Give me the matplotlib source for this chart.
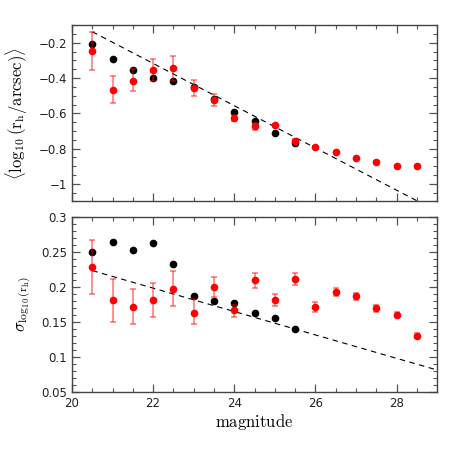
import numpy as np
import matplotlib
matplotlib.use("Agg")
from matplotlib import pyplot as plt
from matplotlib.ticker import MultipleLocator, FuncFormatter

plt.rcParams['mathtext.fontset'] = 'cm'
plt.rcParams['font.family'] = 'DejaVu Sans'

# magnitude bins
mag_black = [20.5, 21.0, 21.5, 22.0, 22.5, 23.0, 23.5, 24.0, 24.5, 25.0, 25.5]
mag_red = [20.5, 21.0, 21.5, 22.0, 22.5, 23.0, 23.5, 24.0, 24.5, 25.0, 25.5,
           26.0, 26.5, 27.0, 27.5, 28.0, 28.5]

# top panel : mean log10(rh)
mean_black = [-0.209, -0.293, -0.352, -0.400, -0.418, -0.452, -0.517, -0.591, -0.645, -0.709, -0.770]
mean_red = [-0.247, -0.466, -0.414, -0.354, -0.344, -0.454, -0.527, -0.628, -0.671, -0.669, -0.755,
            -0.793, -0.821, -0.853, -0.874, -0.901, -0.901]
mean_red_lo = [0.109, 0.076, 0.061, 0.064, 0.074, 0.050, 0.034, 0.018, 0.023, 0.010, 0.010,
               0.006, 0.006, 0.005, 0.005, 0.005, 0.005]
mean_red_hi = [0.110, 0.078, 0.064, 0.065, 0.072, 0.041, 0.038, 0.016, 0.015, 0.010, 0.010,
               0.006, 0.006, 0.005, 0.005, 0.005, 0.005]

# bottom panel : sigma log10(rh)
sig_black = [0.250, 0.264, 0.253, 0.262, 0.233, 0.186, 0.179, 0.176, 0.163, 0.155, 0.140]
sig_red = [0.228, 0.181, 0.171, 0.181, 0.197, 0.163, 0.199, 0.166, 0.209, 0.181, 0.211,
           0.171, 0.192, 0.186, 0.169, 0.160, 0.130]
sig_red_lo = [0.039, 0.031, 0.025, 0.024, 0.025, 0.017, 0.014, 0.009, 0.011, 0.008, 0.008,
              0.0067, 0.006, 0.005, 0.005, 0.004, 0.004]
sig_red_hi = [0.038, 0.030, 0.025, 0.024, 0.026, 0.019, 0.015, 0.008, 0.011, 0.008, 0.008,
              0.0067, 0.006, 0.005, 0.005, 0.004, 0.004]

# dashed reference lines (end points)
line_top_x = [20.5, 29.5]
line_top_y = [-0.137, -1.216]
line_bot_x = [20.5, 29.0]
line_bot_y = [0.223, 0.081]

fig = plt.figure(figsize=(4.63, 4.63), dpi=100)
ax1 = fig.add_axes([0.1555, 0.5650, 0.7885, 0.3805])
ax2 = fig.add_axes([0.1555, 0.1540, 0.7885, 0.3780])

red = '#ff0000'
ms = 4.5
ekw = dict(fmt='o', color=red, ms=ms, ecolor=(1, 0, 0, 0.55), elinewidth=1.1,
           capsize=2.5, capthick=1.1, zorder=4)

ax1.plot(line_top_x, line_top_y, color='black', ls=(0, (5, 4)), lw=0.8, zorder=2)
ax1.plot(mag_black, mean_black, 'o', color='black', ms=ms, zorder=3)
ax1.errorbar(mag_red, mean_red, yerr=[mean_red_lo, mean_red_hi], **ekw)

ax2.plot(line_bot_x, line_bot_y, color='black', ls=(0, (5, 4)), lw=0.8, zorder=2)
ax2.plot(mag_black, sig_black, 'o', color='black', ms=ms, zorder=3)
ax2.errorbar(mag_red, sig_red, yerr=[sig_red_lo, sig_red_hi], **ekw)

ax1.set_xlim(20, 29)
ax1.set_ylim(-1.1, -0.1)
ax2.set_xlim(20, 29)
ax2.set_ylim(0.05, 0.3)


def fmt(v, pos):
    s = ('%.2f' % v).rstrip('0').rstrip('.')
    if s == '-0':
        s = '0'
    return s.replace('-', '\u2212')


for ax in (ax1, ax2):
    ax.xaxis.set_major_locator(MultipleLocator(2))
    ax.xaxis.set_minor_locator(MultipleLocator(0.5))
    ax.tick_params(which='both', direction='in', top=True, right=True, labelsize=8.5,
                   colors='#555555', labelcolor='#222222')
    ax.tick_params(which='major', length=5.8, width=0.9)
    ax.tick_params(which='minor', length=3, width=0.8)
    for sp in ax.spines.values():
        sp.set_color('#444444')
        sp.set_linewidth(1.0)

ax1.yaxis.set_major_locator(MultipleLocator(0.2))
ax1.yaxis.set_minor_locator(MultipleLocator(0.05))
ax1.yaxis.set_major_formatter(FuncFormatter(fmt))
ax1.tick_params(labelbottom=False)

ax2.yaxis.set_major_locator(MultipleLocator(0.05))
ax2.yaxis.set_minor_locator(MultipleLocator(0.01))
ax2.yaxis.set_major_formatter(FuncFormatter(fmt))

ax1.set_ylabel(r'$\langle\log_{10}(\mathrm{r_h/arcsec})\rangle$', fontsize=12, labelpad=6)
ax2.set_ylabel(r'$\sigma_{\log_{10}(\mathrm{r_h})}$', fontsize=12, labelpad=6)
ax2.set_xlabel(r'$\mathrm{magnitude}$', fontsize=12, labelpad=2)

fig.savefig('out.png', dpi=100)
